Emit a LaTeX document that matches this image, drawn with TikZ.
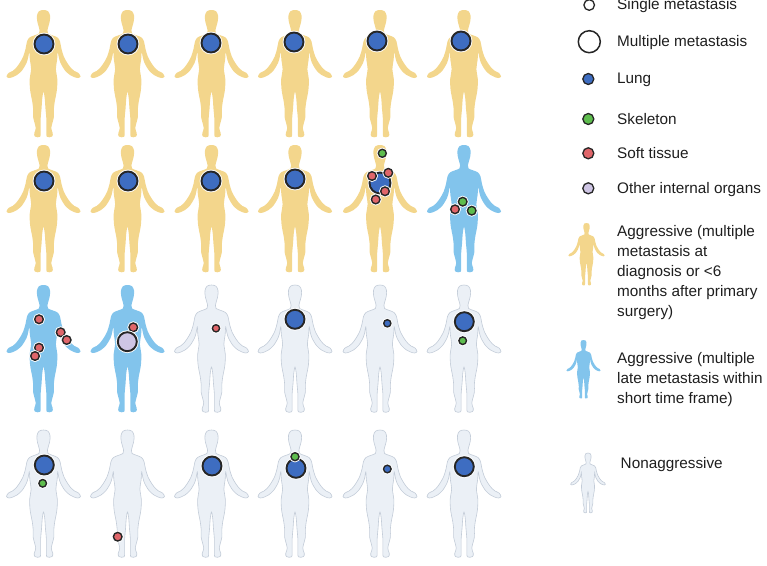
\documentclass[tikz,border=0pt]{standalone}
\usepackage{fontspec}
\setmainfont{Liberation Sans}
\usepackage{xcolor}
\usepackage{tikz}

\definecolor{aggryellow}{HTML}{F3D68C}
\definecolor{aggrblue}{HTML}{82C4EC}
\definecolor{nonaggrfill}{HTML}{EBF0F6}
\definecolor{nonaggrline}{HTML}{C3CCD8}
\definecolor{lungblue}{HTML}{3E6DC1}
\definecolor{bonegreen}{HTML}{5EBD4E}
\definecolor{softred}{HTML}{E0666A}
\definecolor{organlilac}{HTML}{CEC5E4}
\definecolor{keyblack}{HTML}{1E1E1E}

% body silhouette: #1,#2 = centre x and top of head, 127pt from head to feet
\newcommand{\patient}[3]{%
  \path[shift={(#1,#2)}, #3] plot[smooth cycle, tension=0.55] coordinates {
    (0,0) (4.5,1.2) (6.5,5.5) (6.3,11) (5,16) (3.9,20.5) (4.6,23.5)
    (9.5,25.5) (14,27.5) (16.5,31.5) (18,39) (20.5,47) (24.5,54) (28,58.5)
    (31,61) (35,63) (37,66.5) (34.5,68) (30.5,67) (26.5,65)
    (21.5,60.5) (17,53) (15.2,47) (14.2,42) (13.6,50) (12.4,59) (13.8,69)
    (13.4,80) (11.2,92) (10.3,100) (10.4,107) (7.8,118) (9.2,123) (8.6,126.5)
    (3.4,126.8) (2.9,119) (2.8,108) (2,99) (1.2,88) (0,82)
    (-1.2,88) (-2,99) (-2.8,108) (-2.9,119) (-3.4,126.8) (-8.6,126.5)
    (-9.2,123) (-7.8,118) (-10.4,107) (-10.3,100) (-11.2,92) (-13.4,80)
    (-13.8,69) (-12.4,59) (-13.6,50) (-14.2,42) (-15.2,47) (-17,53)
    (-21.5,60.5) (-26.5,65) (-30.5,67) (-34.5,68) (-37,66.5) (-35,63)
    (-31,61) (-28,58.5) (-24.5,54) (-20.5,47) (-18,39) (-16.5,31.5)
    (-14,27.5) (-9.5,25.5) (-4.6,23.5) (-3.9,20.5) (-5,16) (-6.3,11)
    (-6.5,5.5) (-4.5,1.2)};}

\begin{document}
\begin{tikzpicture}[x=1pt, y=-1pt,
    aggr/.style={fill=aggryellow},
    late/.style={fill=aggrblue},
    nonaggr/.style={fill=nonaggrfill, draw=nonaggrline, line width=0.6pt},
    met/.style={draw=black!85, line width=#1, preaction={draw=white, line width=#1+1.8pt}},
    met/.default=1.4pt,
    lung/.style={fill=lungblue},
    bone/.style={fill=bonegreen},
    soft/.style={fill=softred},
    organ/.style={fill=organlilac},
    keytext/.style={anchor=base west, inner sep=0pt, text=keyblack, align=left,
      font=\fontsize{15.3}{20}\selectfont}]
  \useasboundingbox (0,0) rectangle (767,565);
  \clip (0,0) rectangle (767,565);

  % row 1 -- all early aggressive, lung only
  \patient{43.5}{10}{aggr}
  \patient{127.5}{10}{aggr}
  \patient{211.5}{10}{aggr}
  \patient{295}{10}{aggr}
  \patient{380}{10}{aggr}
  \patient{464}{10}{aggr}
  \draw[met=1.9pt, lung] (44,44) circle (9.5);
  \draw[met=1.9pt, lung] (128,44) circle (9.5);
  \draw[met=1.9pt, lung] (211,43) circle (9.5);
  \draw[met=1.9pt, lung] (294,42) circle (9.5);
  \draw[met=1.9pt, lung] (377,41) circle (9.5);
  \draw[met=1.9pt, lung] (461,41) circle (9.5);

  % row 2
  \patient{43.5}{145}{aggr}
  \patient{127.5}{145}{aggr}
  \patient{211.5}{145}{aggr}
  \patient{295}{145}{aggr}
  \patient{380}{145}{aggr}
  \patient{464}{145}{late}
  \draw[met=1.9pt, lung] (44,181) circle (9.5);
  \draw[met=1.9pt, lung] (128,181) circle (9.5);
  \draw[met=1.9pt, lung] (211,181) circle (9.5);
  \draw[met=1.9pt, lung] (295,179) circle (9.5);
  % col 5: lung cluster with soft tissue around it, skull
  \draw[met=1.9pt, lung] (380,183) circle (10.5);
  \draw[met, bone] (382.3,153.3) circle (4);
  \draw[met, soft] (372,176) circle (4.3);
  \draw[met, soft] (388.3,172.8) circle (4.3);
  \draw[met, soft] (385,191.3) circle (4.3);
  \draw[met, soft] (375.7,199.5) circle (4.3);
  % col 6: pelvis
  \draw[met, bone] (462.7,201.7) circle (4.3);
  \draw[met, soft] (455,209.3) circle (4.3);
  \draw[met, bone] (471.7,210.7) circle (4.3);

  % row 3
  \patient{43.5}{285}{late}
  \patient{127.5}{285}{late}
  \patient{211.5}{285}{nonaggr}
  \patient{295}{285}{nonaggr}
  \patient{380}{285}{nonaggr}
  \patient{464}{285}{nonaggr}
  \draw[met, soft] (39,319.3) circle (4.3);
  \draw[met, soft] (60.7,332.3) circle (4.3);
  \draw[met, soft] (66.7,340) circle (4.3);
  \draw[met, soft] (39,347.7) circle (4.3);
  \draw[met, soft] (35,356) circle (4.3);
  \draw[met, soft] (133.3,327.3) circle (4.3);
  \draw[met=1.9pt, organ] (127.3,341.7) circle (9.5);
  \draw[met, soft] (216,328.3) circle (3.6);
  \draw[met=1.9pt, lung] (295,319.3) circle (9.5);
  \draw[met, lung] (387.3,323.3) circle (3.6);
  \draw[met=1.9pt, lung] (464.3,321.7) circle (9.5);
  \draw[met, bone] (462.7,340.7) circle (3.8);

  % row 4 -- all nonaggressive
  \patient{43.5}{430}{nonaggr}
  \patient{127.5}{430}{nonaggr}
  \patient{211.5}{430}{nonaggr}
  \patient{295}{430}{nonaggr}
  \patient{380}{430}{nonaggr}
  \patient{464}{430}{nonaggr}
  \draw[met=1.9pt, lung] (44.3,465) circle (9.5);
  \draw[met, bone] (42.7,483.3) circle (3.8);
  \draw[met, soft] (117.7,536.7) circle (4.3);
  \draw[met=1.9pt, lung] (212,466) circle (9.5);
  \draw[met=1.9pt, lung] (296,468.3) circle (9.5);
  \draw[met, bone] (295,456.7) circle (4);
  \draw[met, lung] (387.3,469) circle (3.8);
  \draw[met=1.9pt, lung] (464.3,466.7) circle (9.5);

  % key
  \filldraw[fill=white, draw=black!85, line width=1.3pt] (589.2,5) circle (5.3);
  \filldraw[fill=white, draw=black!85, line width=1.5pt] (589.3,41.7) circle (11);
  \draw[met=1.3pt, lung] (588.3,79) circle (5.5);
  \draw[met=1.3pt, bone] (588.3,119) circle (5.5);
  \draw[met=1.3pt, soft] (588.3,153.3) circle (5.5);
  \draw[met=1.3pt, organ] (588.3,188.3) circle (5.5);
  \patient{586.5}{223}{aggr, scale=0.49}
  \patient{583.5}{340}{late, scale=0.46}
  \patient{588}{453}{nonaggr, scale=0.47}

  % multi-line keys sit on the baseline of their last line
  \node[keytext] (keysingle) at (617,9.5) {Single metastasis};
  \node[keytext] (keymulti) at (617,46.7) {Multiple metastasis};
  \node[keytext] (keylung) at (617,83.8) {Lung};
  \node[keytext] (keybone) at (617,124) {Skeleton};
  \node[keytext] (keysoft) at (617,158.5) {Soft tissue};
  \node[keytext] (keyorgan) at (617,193.5) {Other internal organs};
  \node[keytext] (keyaggr) at (617,316.5)
    {Aggressive (multiple\\metastasis at\\diagnosis or <6\\months after primary\\surgery)};
  \node[keytext] (keylate) at (617,403)
    {Aggressive (multiple\\late metastasis within\\short time frame)};
  \node[keytext] (keynon) at (620.5,468.3) {Nonaggressive};
\end{tikzpicture}
\end{document}
